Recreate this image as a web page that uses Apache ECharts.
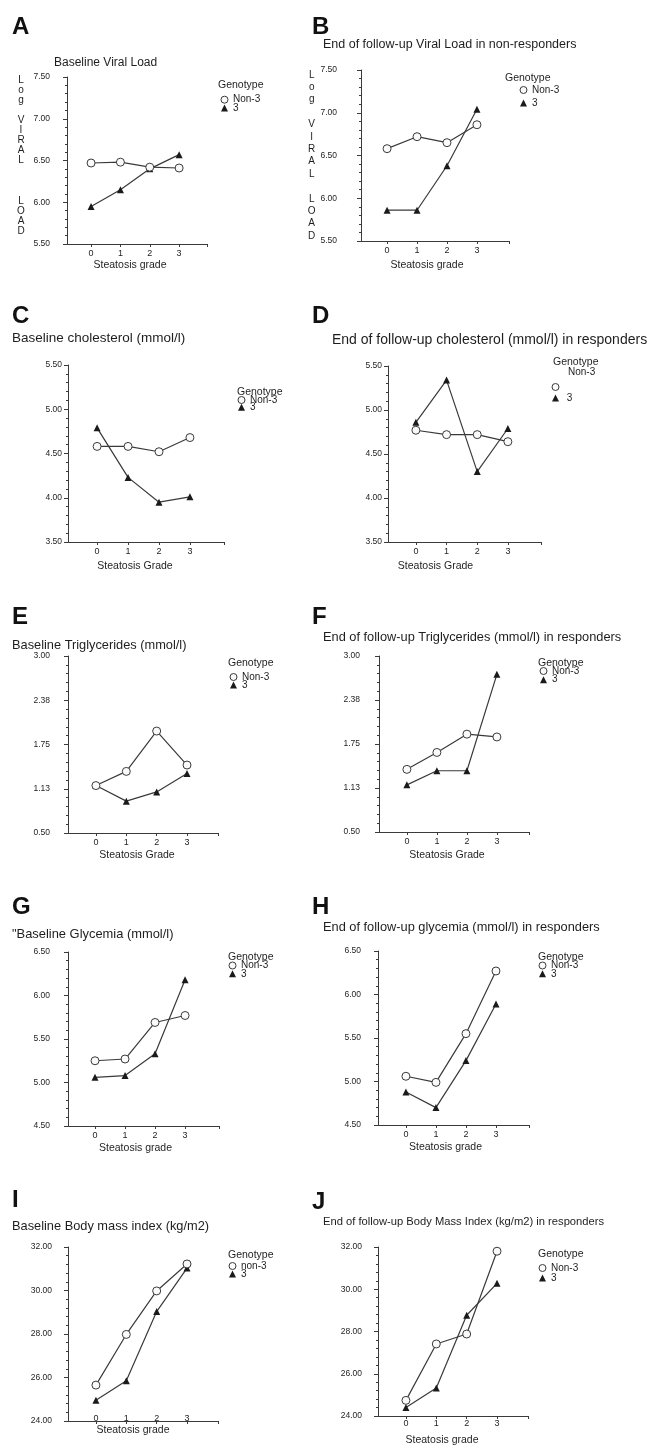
<!DOCTYPE html>
<html><head><meta charset="utf-8">
<script src="https://cdn.jsdelivr.net/npm/echarts@6/dist/echarts.min.js"></script>
<style>html,body{margin:0;padding:0;background:#fff}#c{width:652px;height:1447px}</style>
</head><body><div id="c"></div>
<script>
// ---------- data ----------
const grades = [0, 1, 2, 3];
const viralBaseNon3 = [6.47, 6.48, 6.42, 6.41];
const viralBase3    = [5.95, 6.15, 6.40, 6.57];
const viralEndNon3  = [6.58, 6.72, 6.65, 6.86];
const viralEnd3     = [5.86, 5.86, 6.38, 7.04];
const cholBaseNon3  = [4.58, 4.58, 4.52, 4.68];
const cholBase3     = [4.79, 4.23, 3.95, 4.01];
const cholEndNon3   = [4.77, 4.72, 4.72, 4.64];
const cholEnd3      = [4.86, 5.34, 4.30, 4.79];
const trigBaseNon3  = [1.17, 1.37, 1.94, 1.46];
const trigBase3     = [1.17, 0.95, 1.08, 1.34];
const trigEndNon3   = [1.39, 1.63, 1.89, 1.85];
const trigEnd3      = [1.17, 1.37, 1.37, 2.74];
const glyBaseNon3   = [5.25, 5.27, 5.69, 5.77];
const glyBase3      = [5.06, 5.08, 5.33, 6.18];
const glyEndNon3    = [5.06, 4.99, 5.55, 6.27];
const glyEnd3       = [4.88, 4.70, 5.24, 5.89];
const bmiBaseNon3   = [25.65, 27.98, 29.98, 31.22];
const bmiBase3      = [24.95, 25.85, 29.03, 31.03];
const bmiEndNon3    = [24.74, 27.41, 27.88, 31.80];
const bmiEnd3       = [24.40, 25.33, 28.77, 30.28];

// y-axis tick values
const viralTicks = [5.50, 6.00, 6.50, 7.00, 7.50];
const cholTicks  = [3.50, 4.00, 4.50, 5.00, 5.50];
const trigTicks  = [0.50, 1.125, 1.75, 2.375, 3.00];
const glyTicks   = [4.50, 5.00, 5.50, 6.00, 6.50];
const bmiTicks   = [24, 26, 28, 30, 32];

const panelLetters = ['A','B','C','D','E','F','G','H','I','J'];
const panelTitles = [
  'Baseline Viral Load',
  'End of follow-up Viral Load in non-responders',
  'Baseline cholesterol (mmol/l)',
  'End of follow-up cholesterol (mmol/l) in responders',
  'Baseline Triglycerides (mmol/l)',
  'End of follow-up Triglycerides (mmol/l) in responders',
  '"Baseline Glycemia (mmol/l)',
  'End of follow-up glycemia (mmol/l) in responders',
  'Baseline Body mass index (kg/m2)',
  'End of follow-up Body Mass Index (kg/m2) in responders'
];
const xAxisNames = ['Steatosis grade','Steatosis grade','Steatosis Grade','Steatosis Grade','Steatosis Grade',
  'Steatosis Grade','Steatosis grade','Steatosis grade','Steatosis grade','Steatosis grade'];
const legendTitle = 'Genotype';
const non3Names = ['Non-3','Non-3','Non-3','Non-3','Non-3','Non-3','Non-3','Non-3','non-3','Non-3'];
const g3Name = '3';
const viralAxisName = 'Log VIRAL LOAD';

const panelData = [
  [viralBaseNon3, viralBase3, viralTicks],
  [viralEndNon3, viralEnd3, viralTicks],
  [cholBaseNon3, cholBase3, cholTicks],
  [cholEndNon3, cholEnd3, cholTicks],
  [trigBaseNon3, trigBase3, trigTicks],
  [trigEndNon3, trigEnd3, trigTicks],
  [glyBaseNon3, glyBase3, glyTicks],
  [glyEndNon3, glyEnd3, glyTicks],
  [bmiBaseNon3, bmiBase3, bmiTicks],
  [bmiEndNon3, bmiEnd3, bmiTicks]
];

// ---------- layout (pixels) ----------
const L = [
  {lx:12, ly:15, tx:54, ty:62, ts:12, g:[67,77,140,167], xr:[-0.82,3.95], lm:17, xm:5, ng:16, ns:7, gx:218, gy:85, lgx:220.5, lgy:94.7, lgg:-1.7},
  {lx:312, ly:15, tx:323, ty:43, ts:12.5, g:[361,70,148,171], xr:[-0.87,4.07], lm:24, xm:5, ng:19, ns:8, gx:505, gy:78, lgx:519.5, lgy:85, lgg:3},
  {lx:12, ly:304, tx:12, ty:337, ts:13.5, g:[68,365,156,177], xr:[-0.94,4.10], lm:6, xm:5, ng:19, ns:11, gx:237, gy:392, lgx:237.5, lgy:395, lgg:-2.7},
  {lx:312, ly:304, tx:332, ty:339, ts:14, g:[388,366,153,176], xr:[-0.91,4.08], lm:6, xm:5, ng:19, ns:29, gx:553, gy:362, lgx:551.5, lgy:383, lgg:2, odd:true, ox:568, oy:372},
  {lx:12, ly:605, tx:12, ty:644, ts:12.8, g:[68,656,150,177], xr:[-0.92,4.02], lm:18, xm:5, ng:17, ns:6, gx:228, gy:663, lgx:229.5, lgy:672, lgg:-2},
  {lx:312, ly:605, tx:323, ty:636, ts:12.8, g:[379,656,150,176], xr:[-0.93,4.07], lm:19, xm:5, ng:18, ns:7, gx:538, gy:663, lgx:539.5, lgy:666, lgg:-1.3},
  {lx:12, ly:895, tx:12, ty:933, ts:12.9, g:[68,952,151,174], xr:[-0.90,4.13], lm:18, xm:5, ng:17, ns:8, gx:228, gy:957, lgx:228.5, lgy:960.5, lgg:-1.7},
  {lx:312, ly:895, tx:323, ty:926, ts:12.8, g:[378,951,151,174], xr:[-0.93,4.10], lm:17, xm:5, ng:17, ns:8, gx:538, gy:957, lgx:538.5, lgy:960.5, lgg:-1.7},
  {lx:12, ly:1188, tx:12, ty:1225, ts:12.8, g:[68,1247,150,174], xr:[-0.92,4.02], lm:16, xm:-6.5, ng:2, ns:10, gx:228, gy:1255, lgx:228.5, lgy:1261, lgg:-2},
  {lx:312, ly:1190, tx:323, ty:1221, ts:11.2, g:[378,1247,150,172], xr:[-0.92,4.02], lm:16, xm:3.5, ng:19, ns:11, gx:538, gy:1254, lgx:538.5, lgy:1263, lgg:0}
];

const FONT = '"Liberation Sans", Arial, Helvetica, sans-serif';
const INK = '#1e1e1e';
const LINE = '#3a3a3a';

const grids = [], xAxes = [], yAxes = [], series = [], titles = [], legends = [];

panelData.forEach((pd, i) => {
  const [non3, g3, ticks] = pd;
  const p = L[i];
  grids.push({left: p.g[0], top: p.g[1], width: p.g[2], height: p.g[3], containLabel: false});
  xAxes.push({
    type: 'value', gridIndex: i, min: p.xr[0], max: p.xr[1],
    axisLine: {show: true, onZero: false, lineStyle: {color: LINE, width: 1}},
    axisTick: {show: true, customValues: grades.concat([p.xr[1]]), length: 3, lineStyle: {color: LINE}},
    axisLabel: {customValues: grades, fontSize: 9, color: INK, margin: p.xm, fontFamily: FONT,
      formatter: v => String(Math.round(v))},
    splitLine: {show: false},
    name: xAxisNames[i], nameLocation: 'middle', nameGap: p.ng,
    nameTextStyle: {fontSize: 10.5, color: INK, fontFamily: FONT, padding: [0, p.ns * 2, 0, 0]}
  });
  const y = {
    type: 'value', gridIndex: i, min: ticks[0], max: ticks[ticks.length - 1],
    interval: ticks[1] - ticks[0],
    axisLine: {show: true, onZero: false, lineStyle: {color: LINE, width: 1}},
    axisTick: {show: true, length: 4, lineStyle: {color: LINE}},
    minorTick: {show: true, splitNumber: 5, length: 2, lineStyle: {color: LINE}},
    axisLabel: {fontSize: 8.5, color: INK, margin: p.lm, fontFamily: FONT, formatter: v => v.toFixed(2)},
    splitLine: {show: false}, minorSplitLine: {show: false}
  };
  if (i < 2) {
    const words = viralAxisName.split(' ');
    const gapLines = i === 0 ? ['\n', '\n\n\n'] : ['\n', '\n'];
    y.name = words[0].split('').join('\n') + '\n' + gapLines[0] +
             words[1].split('').join('\n') + '\n' + gapLines[1] +
             words[2].split('').join('\n') + (i === 0 ? '\n ' : '');
    y.nameLocation = 'middle';
    y.nameRotate = 0;
    y.nameGap = i === 0 ? 46 : 48;
    y.nameTextStyle = {fontSize: 10, color: INK, fontFamily: FONT, align: 'center', verticalAlign: 'middle',
      lineHeight: i === 0 ? 10.07 : 12.4};
  }
  yAxes.push(y);

  series.push({
    type: 'line', name: non3Names[i], xAxisIndex: i, yAxisIndex: i,
    data: grades.map((g, k) => [g, non3[k]]),
    symbol: 'circle', symbolSize: 8,
    lineStyle: {color: LINE, width: 1.2},
    itemStyle: {color: '#fafafa', borderColor: LINE, borderWidth: 1},
    emphasis: {disabled: true}, animation: false, z: 3
  });
  series.push({
    type: 'line', name: g3Name, xAxisIndex: i, yAxisIndex: i,
    data: grades.map((g, k) => [g, g3[k]]),
    symbol: 'triangle', symbolSize: 7,
    lineStyle: {color: LINE, width: 1.2},
    itemStyle: {color: '#1a1a1a', borderColor: '#1a1a1a', borderWidth: 0},
    emphasis: {disabled: true}, animation: false, z: 2
  });

  titles.push({text: panelLetters[i], left: p.lx, top: p.ly, padding: 0,
    textStyle: {fontSize: 24, fontWeight: 'bold', color: '#111', fontFamily: FONT}});
  titles.push({text: panelTitles[i], left: p.tx, top: p.ty - p.ts / 2 + 1, padding: 0,
    textStyle: {fontSize: p.ts, fontWeight: 'normal', color: INK, fontFamily: FONT}});
  titles.push({text: legendTitle, left: p.gx, top: p.gy - 5, padding: 0,
    textStyle: {fontSize: 10.5, fontWeight: 'normal', color: INK, fontFamily: FONT}});
  if (p.odd) {
    titles.push({text: non3Names[i], left: p.ox, top: p.oy - 5, padding: 0,
      textStyle: {fontSize: 10, fontWeight: 'normal', color: INK, fontFamily: FONT}});
  }

  legends.push({
    orient: 'vertical', left: p.lgx, top: p.lgy, padding: 0, itemGap: p.lgg,
    itemWidth: 7, itemHeight: 7, selectedMode: false,
    textStyle: {fontSize: 10, color: INK, fontFamily: FONT},
    formatter: p.odd ? (name => name === g3Name ? ' ' + name : '') : (name => name),
    data: [
      {name: non3Names[i], icon: 'circle', itemStyle: {color: '#fafafa', borderColor: LINE, borderWidth: 1}},
      {name: g3Name, icon: 'triangle', itemStyle: {color: '#1a1a1a', borderWidth: 0}}
    ]
  });
});

const chart = echarts.init(document.getElementById('c'), null, {renderer: 'canvas', width: 652, height: 1447});
chart.setOption({
  backgroundColor: '#fff',
  animation: false,
  title: titles,
  legend: legends,
  grid: grids,
  xAxis: xAxes,
  yAxis: yAxes,
  series: series
});
</script>
</body></html>
